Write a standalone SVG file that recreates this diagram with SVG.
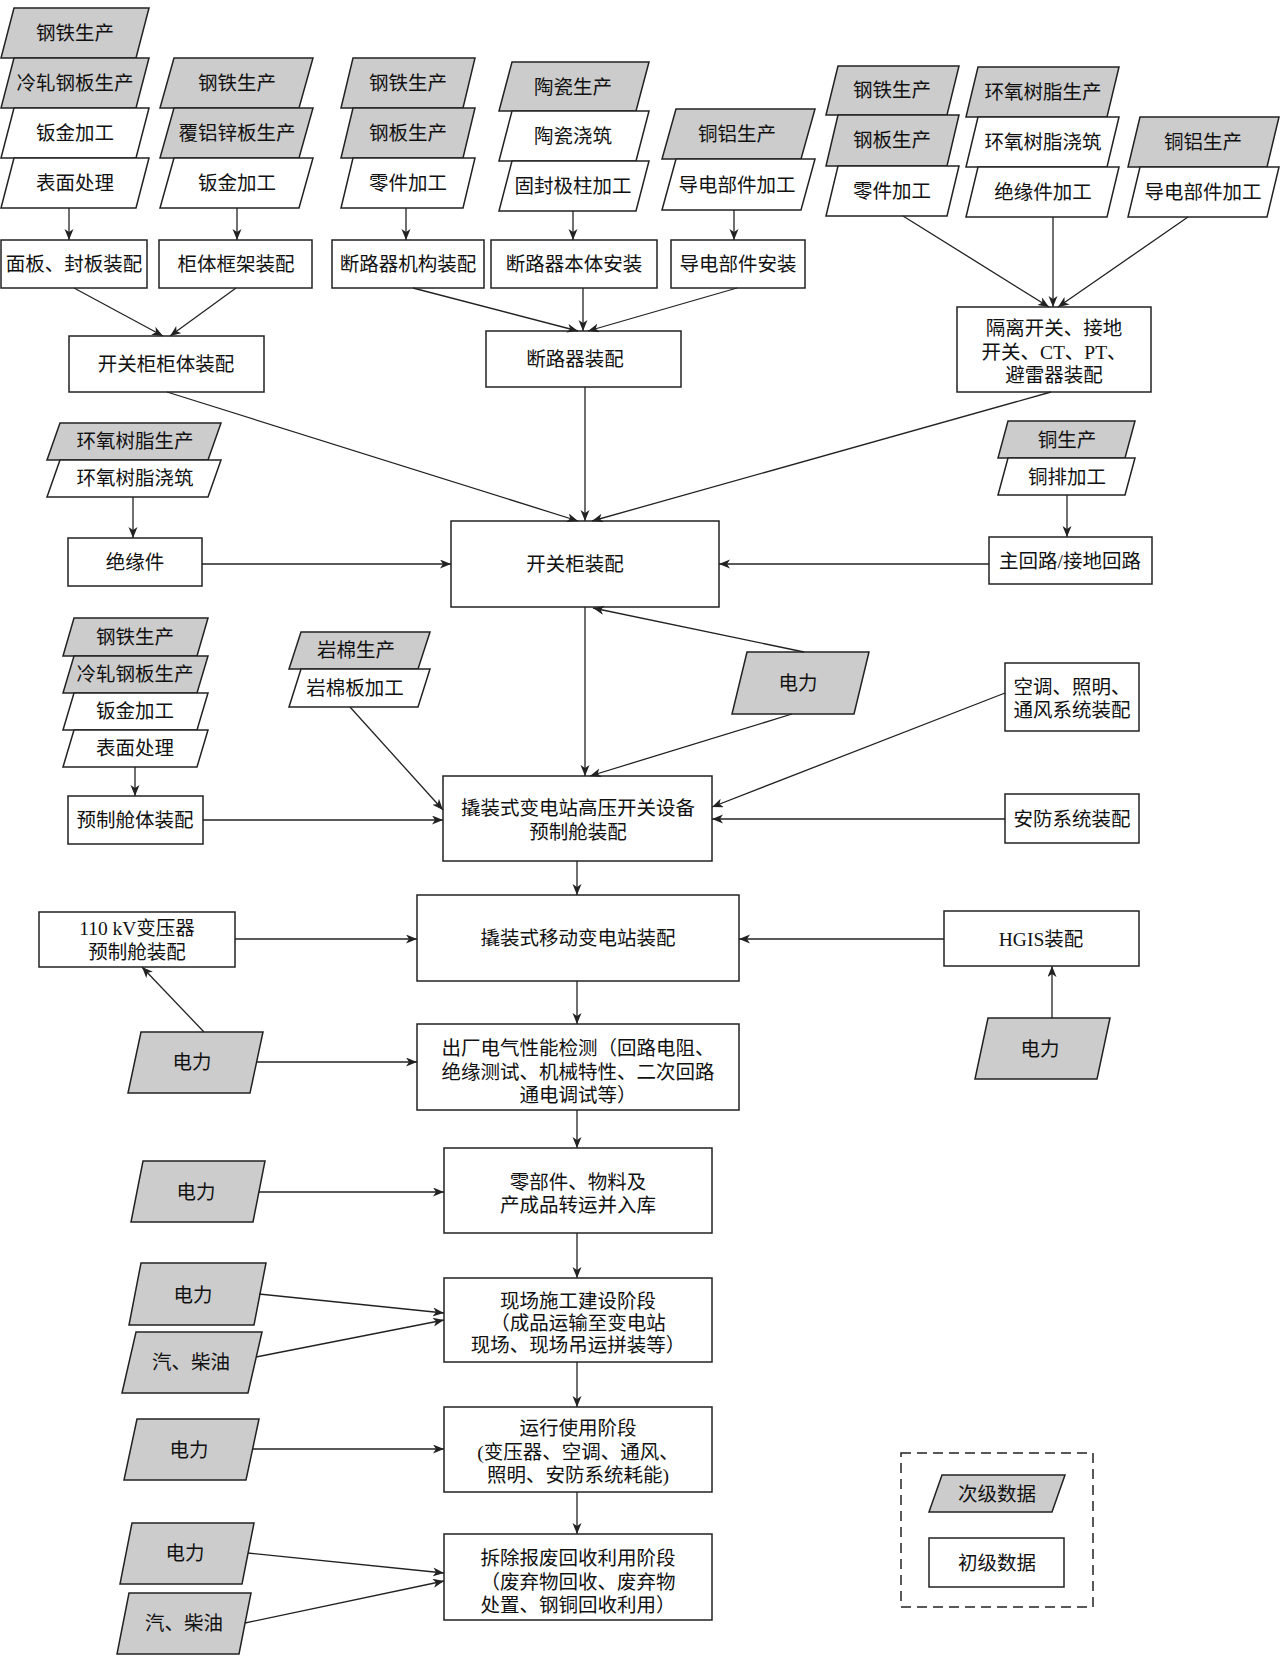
<svg xmlns="http://www.w3.org/2000/svg" width="1280" height="1661" viewBox="0 0 1280 1661">
<defs>
<style>
.g{fill:#cccccc;stroke:#222;stroke-width:1.5}
.w{fill:#fff;stroke:#222;stroke-width:1.5}
.b{fill:#fff;stroke:#222;stroke-width:1.5}
text{font-family:"Liberation Serif","Noto Sans CJK SC",serif;font-size:19.5px;fill:#111;text-anchor:middle;dominant-baseline:central}
.c line{stroke:#222;stroke-width:1.3;marker-end:url(#ah)}
</style>
<marker id="ah" markerUnits="userSpaceOnUse" markerWidth="12" markerHeight="10" refX="11" refY="4.5" orient="auto">
<path d="M0,0 L11,4.5 L0,9 L3,4.5 z" fill="#222"/>
</marker>
</defs>
<rect width="1280" height="1661" fill="#fff"/>

<!-- column 1 -->
<g id="c1a"><polygon class="g" points="14,8 149,8 136,58 1,58"/><text x="75" y="33">钢铁生产</text></g>
<g id="c1b"><polygon class="g" points="14,58 149,58 136,108 1,108"/><text x="75" y="83">冷轧钢板生产</text></g>
<g id="c1c"><polygon class="w" points="14,108 149,108 136,158 1,158"/><text x="75" y="133">钣金加工</text></g>
<g id="c1d"><polygon class="w" points="14,158 149,158 136,208 1,208"/><text x="75" y="183">表面处理</text></g>
<g id="r1"><rect class="b" x="1" y="240" width="146" height="48"/><text x="74" y="264">面板、封板装配</text></g>

<!-- column 2 -->
<g id="c2a"><polygon class="g" points="174,58 313,58 299,108 160,108"/><text x="237" y="83">钢铁生产</text></g>
<g id="c2b"><polygon class="g" points="174,108 313,108 299,158 160,158"/><text x="237" y="133">覆铝锌板生产</text></g>
<g id="c2c"><polygon class="w" points="174,158 313,158 299,208 160,208"/><text x="237" y="183">钣金加工</text></g>
<g id="r2"><rect class="b" x="159" y="240" width="153" height="48"/><text x="236" y="264">柜体框架装配</text></g>

<!-- column 3 -->
<g id="c3a"><polygon class="g" points="353,58 475,58 463,108 341,108"/><text x="408" y="83">钢铁生产</text></g>
<g id="c3b"><polygon class="g" points="353,108 475,108 463,158 341,158"/><text x="408" y="133">钢板生产</text></g>
<g id="c3c"><polygon class="w" points="353,158 475,158 463,208 341,208"/><text x="408" y="183">零件加工</text></g>
<g id="r3"><rect class="b" x="332" y="240" width="152" height="48"/><text x="408" y="264">断路器机构装配</text></g>

<!-- column 4 -->
<g id="c4a"><polygon class="g" points="512,62 649,62 636,111 499,111"/><text x="573" y="87">陶瓷生产</text></g>
<g id="c4b"><polygon class="w" points="512,111 649,111 636,161 499,161"/><text x="573" y="136">陶瓷浇筑</text></g>
<g id="c4c"><polygon class="w" points="512,161 649,161 636,211 499,211"/><text x="573" y="186">固封极柱加工</text></g>
<g id="r4"><rect class="b" x="491" y="240" width="166" height="48"/><text x="574" y="264">断路器本体安装</text></g>

<!-- column 5 -->
<g id="c5a"><polygon class="g" points="676,109 815,109 801,159 662,159"/><text x="737" y="134">铜铝生产</text></g>
<g id="c5b"><polygon class="w" points="676,159 815,159 801,210 662,210"/><text x="737" y="185">导电部件加工</text></g>
<g id="r5"><rect class="b" x="671" y="240" width="134" height="48"/><text x="738" y="264">导电部件安装</text></g>

<!-- column 6 -->
<g id="c6a"><polygon class="g" points="838,66 959,66 947,115 826,115"/><text x="892" y="90">钢铁生产</text></g>
<g id="c6b"><polygon class="g" points="838,115 959,115 947,166 826,166"/><text x="892" y="140">钢板生产</text></g>
<g id="c6c"><polygon class="w" points="838,166 959,166 947,216 826,216"/><text x="892" y="191">零件加工</text></g>

<!-- column 7 -->
<g id="c7a"><polygon class="g" points="978,67 1119,67 1107,117 966,117"/><text x="1043" y="92">环氧树脂生产</text></g>
<g id="c7b"><polygon class="w" points="978,117 1119,117 1107,167 966,167"/><text x="1043" y="142">环氧树脂浇筑</text></g>
<g id="c7c"><polygon class="w" points="978,167 1119,167 1107,217 966,217"/><text x="1043" y="192">绝缘件加工</text></g>

<!-- column 8 -->
<g id="c8a"><polygon class="g" points="1140,117 1279,117 1267,167 1128,167"/><text x="1203" y="142">铜铝生产</text></g>
<g id="c8b"><polygon class="w" points="1140,167 1279,167 1267,217 1128,217"/><text x="1203" y="192">导电部件加工</text></g>

<!-- assemblies -->
<g id="kgggt"><rect class="b" x="69" y="336" width="195" height="56"/><text x="166" y="364">开关柜柜体装配</text></g>
<g id="dlqzp"><rect class="b" x="486" y="331" width="195" height="56"/><text x="575" y="359">断路器装配</text></g>
<g id="glkg"><rect class="b" x="957" y="307" width="194" height="85"/><text x="1054" y="328">隔离开关、接地</text><text x="1054" y="352">开关、CT、PT、</text><text x="1054" y="375">避雷器装配</text></g>

<g id="hy1"><polygon class="g" points="60,423 221,423 208,460 47,460"/><text x="135" y="441">环氧树脂生产</text></g>
<g id="hy2"><polygon class="w" points="60,460 221,460 208,497 47,497"/><text x="135" y="478">环氧树脂浇筑</text></g>
<g id="jyj"><rect class="b" x="68" y="538" width="134" height="48"/><text x="135" y="562">绝缘件</text></g>

<g id="kgg"><rect class="b" x="451" y="521" width="268" height="86"/><text x="575" y="564">开关柜装配</text></g>

<g id="t1"><polygon class="g" points="1008,421 1135,421 1125,458 998,458"/><text x="1067" y="440">铜生产</text></g>
<g id="t2"><polygon class="w" points="1008,458 1135,458 1125,495 998,495"/><text x="1067" y="477">铜排加工</text></g>
<g id="zhl"><rect class="b" x="989" y="537" width="163" height="47"/><text x="1070" y="561">主回路/接地回路</text></g>

<!-- prefabricated cabin -->
<g id="l1"><polygon class="g" points="74,618 208,618 197,656 63,656"/><text x="135" y="637">钢铁生产</text></g>
<g id="l2"><polygon class="g" points="74,656 208,656 197,693 63,693"/><text x="135" y="674">冷轧钢板生产</text></g>
<g id="l3"><polygon class="w" points="74,693 208,693 197,730 63,730"/><text x="135" y="711">钣金加工</text></g>
<g id="l4"><polygon class="w" points="74,730 208,730 197,767 63,767"/><text x="135" y="748">表面处理</text></g>
<g id="yzct"><rect class="b" x="68" y="796" width="135" height="48"/><text x="135" y="820">预制舱体装配</text></g>

<g id="ym1"><polygon class="g" points="301,632 430,632 418,669 289,669"/><text x="356" y="650">岩棉生产</text></g>
<g id="ym2"><polygon class="w" points="301,669 430,669 418,707 289,707"/><text x="355" y="688">岩棉板加工</text></g>

<g id="dl1"><polygon class="g" points="747,652 869,652 854,714 732,714"/><text x="798" y="683">电力</text></g>
<g id="ktzm"><rect class="b" x="1005" y="663" width="134" height="68"/><text x="1072" y="687">空调、照明、</text><text x="1072" y="710">通风系统装配</text></g>
<g id="afxt"><rect class="b" x="1005" y="794" width="134" height="49"/><text x="1072" y="819">安防系统装配</text></g>

<g id="qzgy"><rect class="b" x="443" y="776" width="269" height="85"/><text x="578" y="808">撬装式变电站高压开关设备</text><text x="578" y="832">预制舱装配</text></g>

<g id="byq"><rect class="b" x="39" y="912" width="196" height="55"/><text x="137" y="928">110 kV变压器</text><text x="137" y="952">预制舱装配</text></g>
<g id="qzyd"><rect class="b" x="417" y="895" width="322" height="86"/><text x="578" y="938">撬装式移动变电站装配</text></g>
<g id="hgis"><rect class="b" x="944" y="911" width="195" height="55"/><text x="1041" y="939">HGIS装配</text></g>

<g id="dl2"><polygon class="g" points="141,1032 263,1032 250,1093 128,1093"/><text x="192" y="1062">电力</text></g>
<g id="dl3"><polygon class="g" points="988,1018 1110,1018 1097,1079 975,1079"/><text x="1040" y="1049">电力</text></g>

<g id="ccjc"><rect class="b" x="417" y="1024" width="322" height="86"/><text x="578" y="1048">出厂电气性能检测（回路电阻、</text><text x="578" y="1072">绝缘测试、机械特性、二次回路</text><text x="578" y="1095">通电调试等）</text></g>

<g id="lbj"><rect class="b" x="444" y="1148" width="268" height="85"/><text x="578" y="1182">零部件、物料及</text><text x="578" y="1205">产成品转运并入库</text></g>
<g id="dl4"><polygon class="g" points="143,1161 265,1161 253,1222 131,1222"/><text x="196" y="1192">电力</text></g>

<g id="xc"><rect class="b" x="444" y="1278" width="268" height="84"/><text x="578" y="1301">现场施工建设阶段</text><text x="578" y="1323">（成品运输至变电站</text><text x="578" y="1345">现场、现场吊运拼装等）</text></g>
<g id="dl5"><polygon class="g" points="141,1263 266,1263 254,1325 129,1325"/><text x="193" y="1295">电力</text></g>
<g id="qcy1"><polygon class="g" points="136,1332 262,1332 248,1393 122,1393"/><text x="191" y="1362">汽、柴油</text></g>

<g id="yx"><rect class="b" x="444" y="1407" width="268" height="85"/><text x="578" y="1428">运行使用阶段</text><text x="578" y="1452">(变压器、空调、通风、</text><text x="578" y="1475">照明、安防系统耗能)</text></g>
<g id="dl6"><polygon class="g" points="137,1419 259,1419 246,1480 124,1480"/><text x="189" y="1450">电力</text></g>

<g id="cc"><rect class="b" x="444" y="1534" width="268" height="86"/><text x="578" y="1558">拆除报废回收利用阶段</text><text x="578" y="1582">（废弃物回收、废弃物</text><text x="578" y="1605">处置、钢铜回收利用）</text></g>
<g id="dl7"><polygon class="g" points="132,1523 254,1523 242,1584 120,1584"/><text x="185" y="1553">电力</text></g>
<g id="qcy2"><polygon class="g" points="129,1593 251,1593 239,1654 117,1654"/><text x="184" y="1623">汽、柴油</text></g>

<!-- legend -->
<g id="legend">
<rect x="901" y="1453" width="192" height="154" fill="none" stroke="#222" stroke-width="1.5" stroke-dasharray="10,6"/>
<polygon class="g" points="942,1475 1065,1475 1052,1512 929,1512"/><text x="997" y="1494">次级数据</text>
<rect class="b" x="929" y="1538" width="135" height="49"/><text x="997" y="1563">初级数据</text>
</g>

<g class="c" id="connectors">
<line x1="69" y1="208" x2="69" y2="240"/>
<line x1="237" y1="208" x2="237" y2="240"/>
<line x1="406" y1="208" x2="406" y2="240"/>
<line x1="573" y1="211" x2="573" y2="240"/>
<line x1="734" y1="210" x2="734" y2="240"/>
<line x1="74" y1="288" x2="163" y2="336"/>
<line x1="236" y1="288" x2="170" y2="336"/>
<line x1="413" y1="288" x2="578" y2="331"/>
<line x1="583" y1="288" x2="583" y2="331"/>
<line x1="737" y1="288" x2="588" y2="331"/>
<line x1="903" y1="216" x2="1049" y2="307"/>
<line x1="1053" y1="217" x2="1053" y2="307"/>
<line x1="1188" y1="217" x2="1058" y2="307"/>
<line x1="167" y1="392" x2="578" y2="521"/>
<line x1="585" y1="387" x2="585" y2="521"/>
<line x1="1051" y1="392" x2="592" y2="521"/>
<line x1="133" y1="497" x2="133" y2="538"/>
<line x1="202" y1="564" x2="451" y2="564"/>
<line x1="1067" y1="495" x2="1067" y2="537"/>
<line x1="989" y1="564" x2="719" y2="564"/>
<line x1="804" y1="652" x2="593" y2="608"/>
<line x1="585" y1="607" x2="585" y2="776"/>
<line x1="792" y1="714" x2="590" y2="776"/>
<line x1="1005" y1="693" x2="712" y2="807"/>
<line x1="1005" y1="819" x2="712" y2="819"/>
<line x1="350" y1="707" x2="443" y2="810"/>
<line x1="203" y1="820" x2="443" y2="820"/>
<line x1="135" y1="767" x2="135" y2="796"/>
<line x1="577" y1="861" x2="577" y2="895"/>
<line x1="235" y1="939" x2="417" y2="939"/>
<line x1="944" y1="939" x2="739" y2="939"/>
<line x1="204" y1="1032" x2="142" y2="967"/>
<line x1="1052" y1="1018" x2="1052" y2="966"/>
<line x1="256" y1="1062" x2="417" y2="1062"/>
<line x1="577" y1="981" x2="577" y2="1024"/>
<line x1="577" y1="1110" x2="577" y2="1148"/>
<line x1="259" y1="1192" x2="444" y2="1192"/>
<line x1="577" y1="1233" x2="577" y2="1278"/>
<line x1="259" y1="1294" x2="444" y2="1313"/>
<line x1="256" y1="1357" x2="444" y2="1320"/>
<line x1="577" y1="1362" x2="577" y2="1407"/>
<line x1="252" y1="1449" x2="444" y2="1449"/>
<line x1="577" y1="1492" x2="577" y2="1534"/>
<line x1="248" y1="1553" x2="444" y2="1573"/>
<line x1="245" y1="1623" x2="444" y2="1581"/>
</g>
</svg>
